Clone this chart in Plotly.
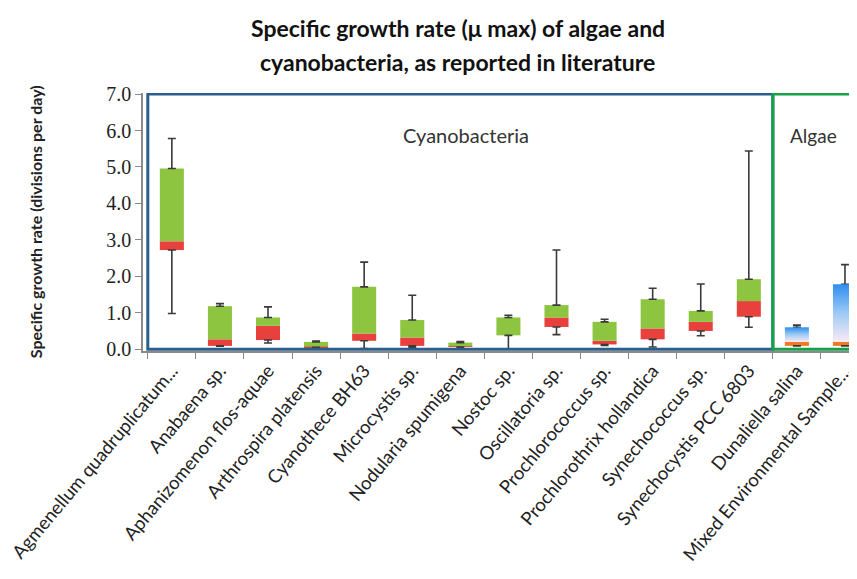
import plotly.graph_objects as go

categories = ["Agmenellum quadruplicatum...", "Anabaena sp.", "Aphanizomenon flos-aquae",
              "Arthrospira platensis", "Cyanothece BH63", "Microcystis sp.",
              "Nodularia spumigena", "Nostoc sp.", "Oscillatoria sp.", "Prochlorococcus sp.",
              "Prochlorothrix hollandica", "Synechococcus sp.", "Synechocystis PCC 6803",
              "Dunaliella salina", "Mixed Environmental Sample..."]
group = ["Cyanobacteria"] * 13 + ["Algae"] * 2
v_min = [0.98, 0.08, 0.17, 0.05, 0.02, 0.05, 0.05, 0.00, 0.40, 0.10, 0.06, 0.37, 0.60, 0.09, 0.09]
v_q1 = [2.72, 0.09, 0.25, 0.05, 0.23, 0.09, 0.06, 0.38, 0.61, 0.13, 0.27, 0.50, 0.89, 0.09, 0.09]
v_med = [2.96, 0.27, 0.64, 0.07, 0.43, 0.32, 0.08, 0.38, 0.87, 0.23, 0.57, 0.75, 1.32, 0.20, 0.20]
v_q3 = [4.96, 1.18, 0.87, 0.20, 1.71, 0.80, 0.18, 0.87, 1.21, 0.75, 1.37, 1.05, 1.92, 0.60, 1.78]
v_max = [5.78, 1.25, 1.16, 0.22, 2.39, 1.48, 0.21, 0.93, 2.72, 0.82, 1.67, 1.79, 5.44, 0.66, 2.32]
y_ticks = [0, 1, 2, 3, 4, 5, 6, 7]

idx = list(range(len(categories)))
cy = [i for i in idx if group[i] == "Cyanobacteria"]
al = [i for i in idx if group[i] == "Algae"]
HW = 0.25  # half box width

fig = go.Figure()

# whiskers (drawn first, behind boxes)
wcol = "#3a3a3a"
fig.add_trace(go.Scatter(
    x=idx, y=v_q3, mode="markers", marker=dict(size=1, color="rgba(0,0,0,0)"),
    error_y=dict(type="data", symmetric=False,
                 array=[v_max[i] - v_q3[i] for i in idx], arrayminus=[0] * len(idx),
                 color=wcol, thickness=1.6, width=4),
    hoverinfo="skip", showlegend=False))
fig.add_trace(go.Scatter(
    x=idx, y=v_q1, mode="markers", marker=dict(size=1, color="rgba(0,0,0,0)"),
    error_y=dict(type="data", symmetric=False,
                 array=[0] * len(idx), arrayminus=[v_q1[i] - v_min[i] for i in idx],
                 color=wcol, thickness=1.6, width=4),
    hoverinfo="skip", showlegend=False))

# cyanobacteria boxes
fig.add_trace(go.Bar(x=cy, y=[v_med[i] - v_q1[i] for i in cy], base=[v_q1[i] for i in cy],
                     width=2 * HW, marker=dict(color="#e8403c", line=dict(width=0)),
                     showlegend=False))
fig.add_trace(go.Bar(x=cy, y=[v_q3[i] - v_med[i] for i in cy], base=[v_med[i] for i in cy],
                     width=2 * HW, marker=dict(color="#8dc540", line=dict(width=0)),
                     showlegend=False))

# algae boxes
fig.add_trace(go.Bar(x=al, y=[v_med[i] - v_q1[i] for i in al], base=[v_q1[i] for i in al],
                     width=2 * HW, marker=dict(color="#f07a22", line=dict(width=0)),
                     showlegend=False))
for i in al:
    fig.add_trace(go.Scatter(
        x=[i - HW, i + HW, i + HW, i - HW, i - HW],
        y=[v_med[i], v_med[i], v_q3[i], v_q3[i], v_med[i]],
        mode="lines", line=dict(width=0), fill="toself",
        fillgradient=dict(type="vertical",
                          colorscale=[[0, "#fbeaf4"], [0.5, "#9ccaf5"], [1, "#2f8ef0"]]),
        hoverinfo="skip", showlegend=False))

n_cy = len(cy)
fig.update_layout(
    barmode="overlay",
    width=857, height=579,
    margin=dict(l=135, r=8, t=85, b=236),
    paper_bgcolor="white", plot_bgcolor="white",
    font=dict(family="Lato, sans-serif", color="#222"),
    xaxis=dict(range=[-0.6, 14.25], tickmode="array", tickvals=idx, ticktext=categories,
               tickangle=-50, ticks="", showgrid=False, zeroline=False, automargin=False,
               ticklabeloverflow="allow",
               showline=True, linecolor="#8a8a8a", linewidth=1.5,
               tickfont=dict(family="Lato, sans-serif", size=18.5, color="#222"),
               minor=dict(tick0=0.5, dtick=1, ticks="outside", ticklen=6,
                          tickcolor="#8a8a8a", tickwidth=1.2, showgrid=False)),
    yaxis=dict(range=[-0.05, 7.03], tickmode="array", tickvals=y_ticks,
               ticktext=[f"{t:.1f}" for t in y_ticks], automargin=False,
               ticks="outside", ticklen=6, tickcolor="#8a8a8a", tickwidth=1.2,
               showgrid=False, zeroline=False, showline=True, linecolor="#8a8a8a",
               linewidth=1.5,
               tickfont=dict(family="Liberation Serif, serif", size=20, color="#222")),
    shapes=[
        dict(type="rect", xref="x", yref="y", x0=-0.5, x1=n_cy - 0.5, y0=0, y1=7,
             line=dict(color="#2b5e8c", width=3), layer="above"),
        dict(type="rect", xref="x", yref="y", x0=n_cy - 0.5, x1=len(idx) - 0.3, y0=0, y1=7,
             line=dict(color="#17a04a", width=3), layer="above"),
    ],
    annotations=[
        dict(text="<b>Specific growth rate (μ max) of algae and</b>", xref="paper", yref="paper",
             x=0.441, y=1.252, showarrow=False, font=dict(size=23, color="#111"),
             xanchor="center", yanchor="middle"),
        dict(text="<b>cyanobacteria, as reported in literature</b>", xref="paper", yref="paper",
             x=0.441, y=1.120, showarrow=False, font=dict(size=23, color="#111"),
             xanchor="center", yanchor="middle"),
        dict(text="<b>Specific growth rate (divisions per day)</b>", xref="paper", yref="paper",
             x=-0.151, y=0.5, textangle=-90, showarrow=False,
             font=dict(size=16, color="#222"), xanchor="center", yanchor="middle"),
        dict(text="Cyanobacteria", xref="x", yref="y", x=6.11, y=5.87, showarrow=False,
             font=dict(size=20, color="#333")),
        dict(text="Algae", xref="x", yref="y", x=13.35, y=5.87, showarrow=False,
             font=dict(size=19, color="#333")),
    ],
)

fig.write_html("out.html")
